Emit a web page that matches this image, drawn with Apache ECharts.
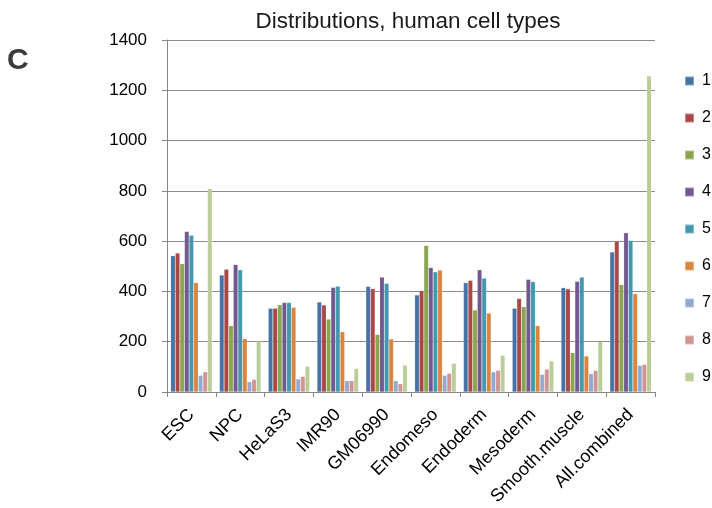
<!DOCTYPE html>
<html>
<head>
<meta charset="utf-8">
<script src="https://cdn.jsdelivr.net/npm/echarts@6/dist/echarts.min.js"></script>
<style>
  html, body { margin: 0; padding: 0; background: #ffffff; }
  #chart { width: 712px; height: 508px; }
</style>
</head>
<body>
<div id="chart"></div>
<script>
// Cell types along the x axis
const categories = ['ESC', 'NPC', 'HeLaS3', 'IMR90', 'GM06990', 'Endomeso',
  'Endoderm', 'Mesoderm', 'Smooth.muscle', 'All.combined'];

// Counts per class 1..9, one value per cell type
const s1 = [542, 465, 333, 358, 420, 386, 435, 333, 415, 557];
const s2 = [553, 488, 333, 346, 411, 403, 444, 372, 410, 600];
const s3 = [510, 264, 347, 290, 229, 583, 326, 339, 156, 427];
const s4 = [638, 507, 356, 416, 457, 495, 486, 448, 440, 633];
const s5 = [623, 486, 356, 421, 432, 478, 453, 439, 457, 603];
const s6 = [435, 212, 337, 240, 211, 485, 314, 264, 143, 391];
const s7 = [66, 41, 52, 45, 45, 66, 80, 70, 73, 106];
const s8 = [80, 50, 62, 45, 33, 74, 86, 91, 86, 110];
const s9 = [808, 201, 102, 94, 107, 114, 146, 123, 200, 1257];

const seriesNames = ['1', '2', '3', '4', '5', '6', '7', '8', '9'];
const seriesValues = [s1, s2, s3, s4, s5, s6, s7, s8, s9];
const palette = ['#4572A7', '#AA4643', '#89A54E', '#71588F', '#4198AF',
  '#DB843D', '#93A9CF', '#D19392', '#B9CD96'];

// Value axis ticks
const yMin = 0, yMax = 1400, yStep = 200;

const font = 'Liberation Sans, Arial, sans-serif';

const chart = echarts.init(document.getElementById('chart'), null, { renderer: 'canvas' });

chart.setOption({
  animation: false,
  color: palette,
  title: [
    {
      text: 'Distributions, human cell types',
      left: 403, top: 5, textAlign: 'center',
      textStyle: { fontFamily: font, fontSize: 22.5, fontWeight: 'normal', color: '#1a1a1a' }
    },
    {
      text: 'C',
      left: 2, top: 41,
      textStyle: { fontFamily: font, fontSize: 30, fontWeight: 'bold', color: '#3a3a3a' }
    }
  ],
  legend: {
    orient: 'vertical',
    left: 684, top: 73,
    padding: 0,
    itemWidth: 9, itemHeight: 9,
    itemGap: 21,
    icon: 'rect',
    data: seriesNames,
    textStyle: { fontFamily: font, fontSize: 16, color: '#000', lineHeight: 16, padding: [0, 0, 0, 3] }
  },
  grid: { left: 167, right: 57, top: 40, bottom: 116, containLabel: false, outerBoundsMode: 'none' },
  xAxis: {
    type: 'category',
    data: categories,
    axisLine: { lineStyle: { color: '#868686', width: 1 } },
    axisTick: { show: true, length: 5, lineStyle: { color: '#868686' } },
    axisLabel: {
      rotate: 45, interval: 0, margin: 20,
      fontFamily: font, fontSize: 18, color: '#000'
    }
  },
  yAxis: {
    type: 'value',
    min: yMin, max: yMax, interval: yStep,
    axisLine: { show: true, lineStyle: { color: '#868686', width: 1 } },
    axisTick: { show: true, length: 5, lineStyle: { color: '#868686' } },
    splitLine: { lineStyle: { color: '#8c8c8c', width: 1 } },
    axisLabel: { fontFamily: font, fontSize: 17, color: '#000', margin: 20, formatter: v => String(v) }
  },
  series: seriesValues.map((vals, i) => ({
    name: seriesNames[i],
    type: 'bar',
    data: vals,
    barGap: '0%',
    barCategoryGap: '15%',
    itemStyle: { color: palette[i], borderColor: 'rgba(255,255,255,0.35)', borderWidth: 0.5 }
  }))
});
</script>
</body>
</html>
